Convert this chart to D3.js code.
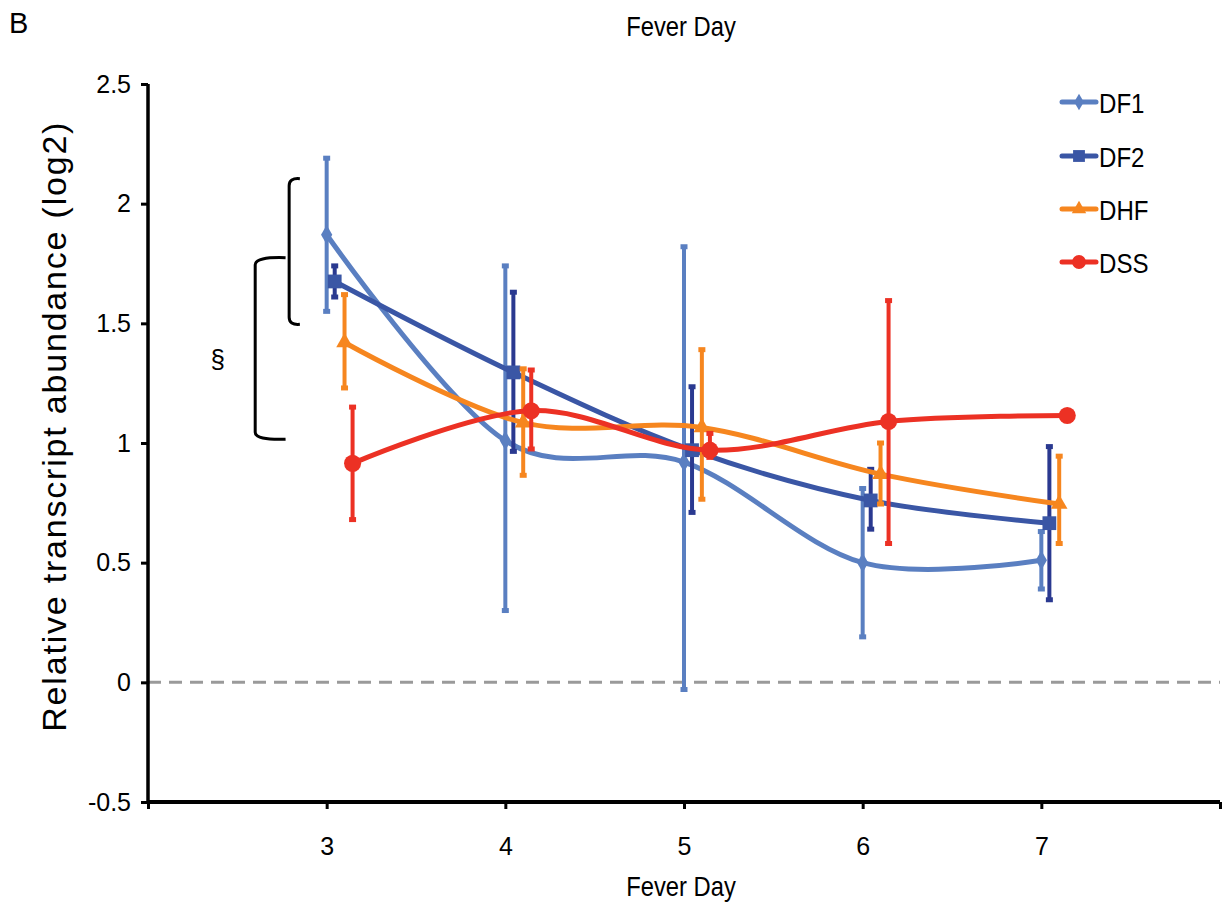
<!DOCTYPE html>
<html>
<head>
<meta charset="utf-8">
<script src="https://cdn.jsdelivr.net/npm/d3@7"></script>
<style>
  html, body { margin: 0; padding: 0; background: #fff; }
  svg { display: block; }
  text { font-family: "Liberation Sans", Arial, Helvetica, sans-serif; }
</style>
</head>
<body>
<svg id="chart" width="1222" height="909"></svg>
<script>
// ---------- DATA ----------
const days = [3, 4, 5, 6, 7];
const seriesNames = ["DF1", "DF2", "DHF", "DSS"];

const df1Values = [1.87, 1.01, 0.92, 0.50, 0.51];
const df1Upper  = [2.19, 1.74, 1.82, 0.81, 0.63];
const df1Lower  = [1.55, 0.30, -0.03, 0.19, 0.39];

const df2Values = [1.675, 1.295, 0.97, 0.76, 0.665];
const df2Upper  = [1.74, 1.63, 1.235, 0.89, 0.985];
const df2Lower  = [1.61, 0.965, 0.71, 0.64, 0.345];

const dhfValues = [1.42, 1.085, 1.065, 0.87, 0.745];
const dhfUpper  = [1.62, 1.31, 1.39, 1.00, 0.945];
const dhfLower  = [1.23, 0.865, 0.765, 0.745, 0.58];

const dssValues = [0.915, 1.135, 0.97, 1.09, 1.115];
const dssUpper  = [1.15, 1.305, 1.04, 1.595, 1.115];
const dssLower  = [0.68, 0.975, 0.94, 0.58, 1.115];

const yTickValues = [-0.5, 0, 0.5, 1, 1.5, 2, 2.5];
const yTickLabels = ["-0.5", "0", "0.5", "1", "1.5", "2", "2.5"];
const xTickValues = [2, 3, 4, 5, 6, 7, 8];
const xTickLabels = ["", "3", "4", "5", "6", "7", ""];

// significance brackets (value spans)
const bracketSpans = [[2.1, 1.5], [1.77, 1.02]];

// ---------- STYLE / LAYOUT ----------
const lineColors  = ["#5A7FC1", "#3A56A5", "#F6861F", "#EC3124"];
const errColors   = ["#5A7FC1", "#2A3990", "#F6861F", "#EC3124"];
const markerTypes = [d3.symbolDiamond, d3.symbolSquare, d3.symbolTriangle, d3.symbolCircle];
const markerSizes = [110, 190, 120, 230];
const legendMarkerSizes = [80, 140, 90, 150];
const dayOffsets  = [0, 0.045, 0.1, 0.145];
const condensed = 0.86;

const svg = d3.select("#chart");
const x = d3.scaleLinear().domain([2, 8]).range([148, 1220]);
const y = d3.scaleLinear().domain([-0.5, 2.5]).range([802, 84]);

const series = [
  { name: seriesNames[0], v: df1Values, hi: df1Upper, lo: df1Lower },
  { name: seriesNames[1], v: df2Values, hi: df2Upper, lo: df2Lower },
  { name: seriesNames[2], v: dhfValues, hi: dhfUpper, lo: dhfLower },
  { name: seriesNames[3], v: dssValues, hi: dssUpper, lo: dssLower }
];

// condensed text helper
function condText(parent, px, py, str, size, anchor, sx) {
  return parent.append("text")
    .attr("transform", `translate(${px},${py}) scale(${sx || condensed},1)`)
    .attr("text-anchor", anchor || "start")
    .attr("font-size", size).attr("fill", "#000").text(str);
}

// Panel letter and top title
svg.append("text").attr("x", 9).attr("y", 33).attr("font-size", 29).text("B");
condText(svg, 681, 36, "Fever Day", 27, "middle", 0.88);

// zero dashed line
svg.append("line")
  .attr("x1", x(2)).attr("x2", x(8)).attr("y1", y(0)).attr("y2", y(0))
  .attr("stroke", "#9a9a9a").attr("stroke-width", 3).attr("stroke-dasharray", "13,8");

// Y axis
const yAxis = d3.axisLeft(y).tickValues(yTickValues)
  .tickFormat((d, i) => yTickLabels[i]).tickSize(7).tickPadding(10);
const gy = svg.append("g").attr("transform", `translate(${x(2)},0)`).call(yAxis);
gy.attr("font-family", null);
gy.select(".domain").attr("stroke", "#000").attr("stroke-width", 3.5)
  .attr("d", `M0,${y(2.5)}V${y(-0.5)}`);
gy.selectAll(".tick line").attr("stroke", "#000").attr("stroke-width", 3);
gy.selectAll(".tick text").attr("font-size", 25).attr("fill", "#000");

// X axis
const xAxis = d3.axisBottom(x).tickValues(xTickValues)
  .tickFormat((d, i) => xTickLabels[i]).tickSize(7).tickPadding(28);
const gx = svg.append("g").attr("transform", `translate(0,${y(-0.5)})`).call(xAxis);
gx.attr("font-family", null);
gx.select(".domain").attr("stroke", "#000").attr("stroke-width", 4)
  .attr("d", `M${x(2)},0H${x(8)}`);
gx.selectAll(".tick line").attr("stroke", "#000").attr("stroke-width", 3);
gx.selectAll(".tick text").attr("font-size", 25).attr("fill", "#000");

// axis titles
condText(svg, 681, 896, "Fever Day", 27, "middle", 0.88);
svg.append("text")
  .attr("transform", `translate(66,${y(1.07)}) rotate(-90)`)
  .attr("text-anchor", "middle")
  .attr("font-size", 34).attr("letter-spacing", 1.8)
  .text("Relative transcript abundance (log2)");

// series
const line = d3.line().curve(d3.curveCardinal.tension(0));
series.forEach((s, si) => {
  const g = svg.append("g");
  const pts = days.map((d, i) => [x(d + dayOffsets[si]), y(s.v[i])]);
  // error bars
  days.forEach((d, i) => {
    if (s.hi[i] === s.lo[i]) return;
    const cx = x(d + dayOffsets[si]);
    g.append("line").attr("x1", cx).attr("x2", cx)
      .attr("y1", y(s.hi[i])).attr("y2", y(s.lo[i]))
      .attr("stroke", errColors[si]).attr("stroke-width", 4);
    [s.hi[i], s.lo[i]].forEach(val => {
      g.append("line").attr("x1", cx - 3.5).attr("x2", cx + 3.5)
        .attr("y1", y(val)).attr("y2", y(val))
        .attr("stroke", errColors[si]).attr("stroke-width", 5);
    });
  });
  g.append("path").attr("d", line(pts)).attr("fill", "none")
    .attr("stroke", lineColors[si]).attr("stroke-width", 5).attr("stroke-linecap", "round");
  g.selectAll("path.m").data(pts).enter().append("path").attr("class", "m")
    .attr("transform", p => `translate(${p[0]},${p[1]})`)
    .attr("d", d3.symbol().type(markerTypes[si]).size(markerSizes[si]))
    .attr("fill", lineColors[si]);
});

// brackets
const bx = [[2.85, 2.79], [2.77, 2.60]];
bracketSpans.forEach((b, i) => {
  const xo = x(bx[i][0]), xi = x(bx[i][1]);
  const yt = y(b[0]), yb = y(b[1]);
  svg.append("path")
    .attr("d", `M${xo},${yt - 1}Q${xi},${yt - 2} ${xi},${yt + 6}V${yb - 6}Q${xi},${yb + 2} ${xo},${yb + 1}`)
    .attr("fill", "none").attr("stroke", "#000").attr("stroke-width", 3);
});
svg.append("text").attr("x", x(2.39)).attr("y", y(1.315))
  .attr("text-anchor", "middle").attr("font-size", 26).text("§");

// legend
const legendY = [102, 156, 209, 262];
seriesNames.forEach((n, i) => {
  const g = svg.append("g").attr("transform", `translate(0,${legendY[i]})`);
  g.append("line").attr("x1", 1062).attr("x2", 1096).attr("y1", 0).attr("y2", 0)
    .attr("stroke", lineColors[i]).attr("stroke-width", 5).attr("stroke-linecap", "round");
  g.append("path").attr("transform", "translate(1079,0)")
    .attr("d", d3.symbol().type(markerTypes[i]).size(legendMarkerSizes[i]))
    .attr("fill", lineColors[i]);
  condText(g, 1099, 11, n, 28, "start");
});
</script>
</body>
</html>
